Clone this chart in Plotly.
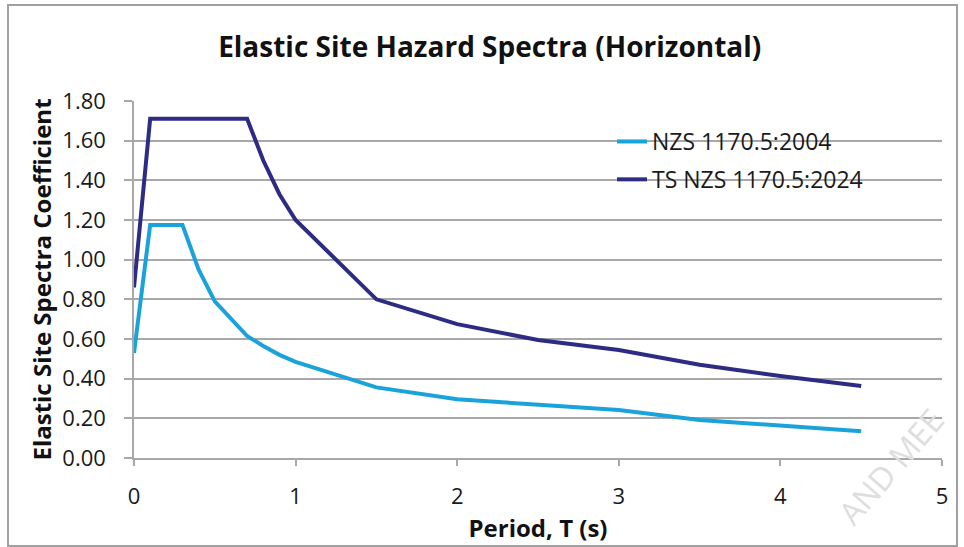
import plotly.graph_objects as go

# Period values (s) and spectral coefficients
T_2004 = [0.0, 0.1, 0.3, 0.4, 0.5, 0.6, 0.7, 0.8, 0.9, 1.0, 1.5, 2.0, 2.5, 3.0, 3.5, 4.0, 4.5]
C_2004 = [0.53, 1.175, 1.175, 0.95, 0.79, 0.70, 0.615, 0.565, 0.52, 0.485, 0.356, 0.296, 0.267, 0.242, 0.192, 0.161, 0.135]

T_2024 = [0.0, 0.1, 0.7, 0.75, 0.8, 0.9, 1.0, 1.5, 2.0, 2.5, 3.0, 3.5, 4.0, 4.5]
C_2024 = [0.86, 1.71, 1.71, 1.60, 1.50, 1.33, 1.20, 0.80, 0.675, 0.595, 0.545, 0.47, 0.413, 0.363]

NAME_2004 = "NZS 1170.5:2004"
NAME_2024 = "TS NZS 1170.5:2024"

X_TICKS = [0, 1, 2, 3, 4, 5]
Y_TICKS = [0.0, 0.2, 0.4, 0.6, 0.8, 1.0, 1.2, 1.4, 1.6, 1.8]

LIGHT = "#1AA3DA"
DARK = "#2E2B84"
GRID = "#A8A8A8"
TXT = "#1a1a1a"

fig = go.Figure()
fig.add_trace(go.Scatter(x=T_2004, y=C_2004, mode="lines", name=NAME_2004,
                         legendgroup="a", line=dict(color=LIGHT, width=4)))
fig.add_trace(go.Scatter(x=T_2024, y=C_2024, mode="lines", name=NAME_2024,
                         legendgroup="b", line=dict(color=DARK, width=4)))

fig.update_layout(
    width=964, height=547,
    paper_bgcolor="white", plot_bgcolor="white",
    margin=dict(l=134, r=22, t=101, b=89, autoexpand=False),
    font=dict(family="Open Sans", color=TXT),
    title=dict(text="<b>Elastic Site Hazard Spectra (Horizontal)</b>",
               x=0.508, xanchor="center", y=1 - 47 / 547, yanchor="middle",
               yref="container", font=dict(size=28, color="#111111")),
    showlegend=True,
    legend=dict(x=(612 - 134) / 808, y=(458 - 120) / 357, xanchor="left", yanchor="top",
                bgcolor="rgba(0,0,0,0)", font=dict(size=23, color=TXT),
                traceorder="grouped", tracegroupgap=5),
    shapes=[
        dict(type="rect", xref="paper", yref="paper", x0=0.521, x1=0.960,
             y0=0.70, y1=0.97, fillcolor="white", line=dict(width=0), layer="between"),
        dict(type="rect", xref="paper", yref="paper", x0=(8 - 134) / 808, x1=(957 - 134) / 808,
             y0=(458 - 546) / 357, y1=(458 - 5) / 357, line=dict(color="#A0A0A0", width=2),
             fillcolor="rgba(0,0,0,0)", layer="above"),
    ],
)

fig.update_xaxes(range=[0, 5], tickvals=X_TICKS, ticktext=[str(v) for v in X_TICKS],
                 showgrid=False, showline=True, linecolor=GRID, linewidth=1.5,
                 ticks="outside", ticklen=6, tickcolor=GRID, tickwidth=1.5,
                 ticklabelstandoff=12,
                 tickfont=dict(size=22, color=TXT), zeroline=False, automargin=False,
                 title=dict(text="<b>Period, T (s)</b>", font=dict(size=24, color="#111111"),
                            standoff=11))
fig.update_yaxes(range=[0, 1.8], tickvals=Y_TICKS, ticktext=[f"{v:.2f}" for v in Y_TICKS],
                 showgrid=True, gridcolor=GRID, gridwidth=1.5,
                 showline=True, linecolor=GRID, linewidth=1.5,
                 ticks="outside", ticklen=8, tickcolor=GRID, tickwidth=1.5,
                 ticklabelstandoff=14,
                 tickfont=dict(size=22, color=TXT), zeroline=False, automargin=False,
                 title=dict(text="<b>Elastic Site Spectra Coefficient</b>",
                            font=dict(size=24, color="#111111"), standoff=4))

fig.add_annotation(text="AND MEE", xref="paper", yref="paper",
                   x=(890 - 134) / 808, y=(458 - 466) / 357,
                   showarrow=False, textangle=-49, font=dict(size=32, color="#DEDEDE",
                   family="Open Sans"), xanchor="center", yanchor="middle")

fig.write_html("out.html", config={"displayModeBar": False},
               post_script="document.body.style.margin='0';")
